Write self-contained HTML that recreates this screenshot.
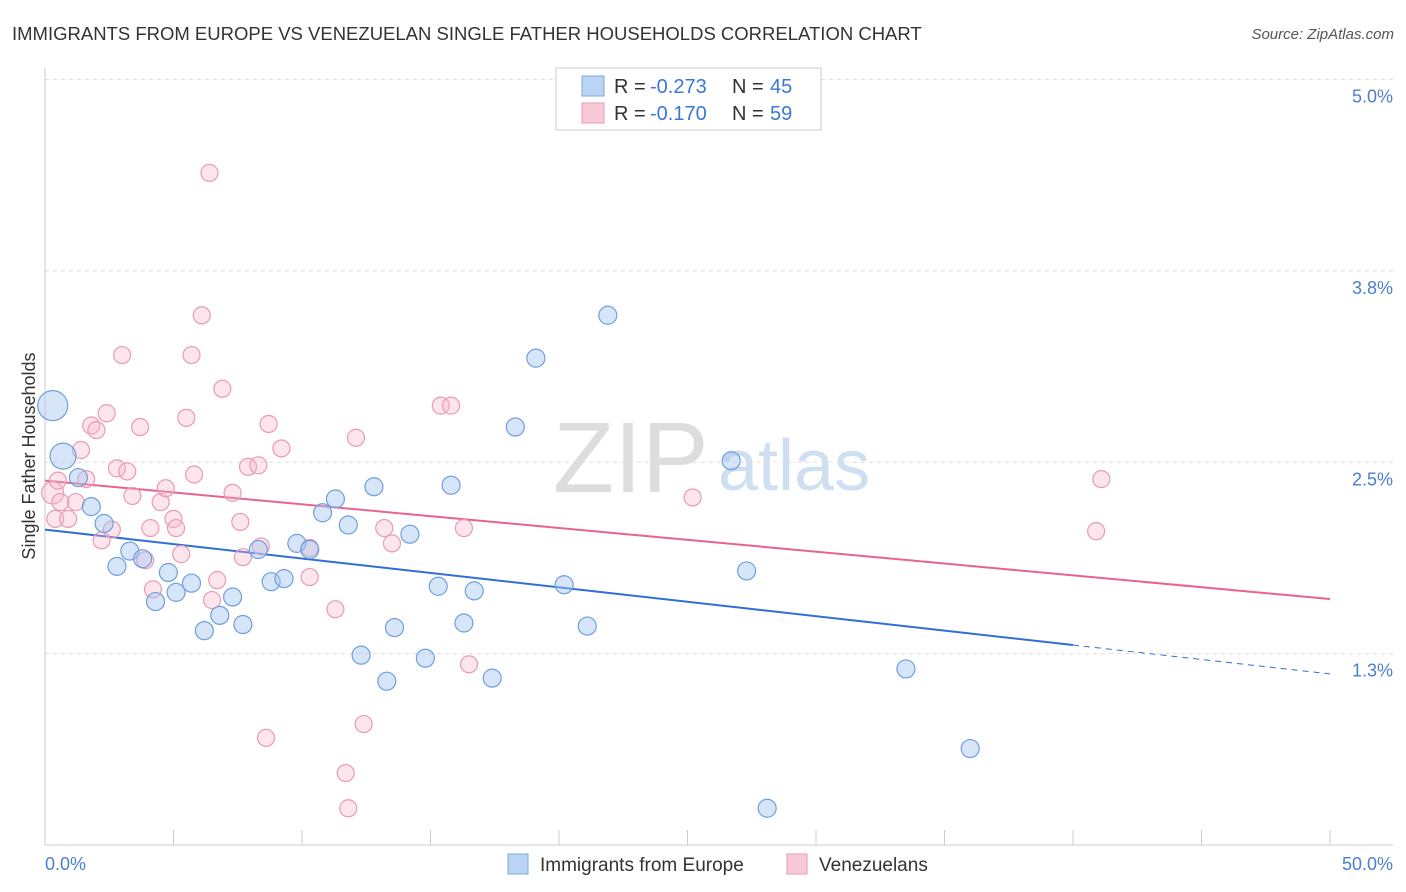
<!DOCTYPE html>
<html><head><meta charset="utf-8"><style>
body{margin:0;background:#fff;font-family:"Liberation Sans",sans-serif;overflow:hidden}
svg{display:block;overflow:hidden}
svg text{font-family:"Liberation Sans",sans-serif}
</style></head><body>
<svg width="1406" height="892">
<text x="12" y="40" font-size="18.5" fill="#333">IMMIGRANTS FROM EUROPE VS VENEZUELAN SINGLE FATHER HOUSEHOLDS CORRELATION CHART</text>
<text x="1394" y="39" font-size="15" fill="#555" font-style="italic" text-anchor="end">Source: ZipAtlas.com</text>
<text x="553" y="492" font-size="100" fill="#ddd" font-family="Liberation Serif">ZIP</text>
<text x="718" y="490" font-size="72" fill="#cfdff2">atlas</text>
<g id="grid"></g><g id="axes"></g><g id="lines"></g><g id="pts"></g>
<text x="35" y="456" font-size="18" fill="#333" transform="rotate(-90 35 456)" text-anchor="middle">Single Father Households</text>
<text x="45" y="870" font-size="18" fill="#4a7fd0">0.0%</text>
<text x="1393" y="870" font-size="18" fill="#4a7fd0" text-anchor="end">50.0%</text>
<g>
<rect x="556" y="68" width="265" height="62" fill="#fff" stroke="#ccc"/>
<rect x="582" y="76" width="22" height="20" fill="#bcd4f4" stroke="#7aa9e0"/>
<rect x="582" y="103" width="22" height="20" fill="#f9c9d8" stroke="#e89ab4"/>
<text x="614" y="93" font-size="20" fill="#333">R =</text>
<text x="650" y="93" font-size="20" fill="#3a78d8">-0.273</text>
<text x="732" y="93" font-size="20" fill="#333">N =</text>
<text x="770" y="93" font-size="20" fill="#3a78d8">45</text>
<text x="614" y="120" font-size="20" fill="#333">R =</text>
<text x="650" y="120" font-size="20" fill="#3a78d8">-0.170</text>
<text x="732" y="120" font-size="20" fill="#333">N =</text>
<text x="770" y="120" font-size="20" fill="#3a78d8">59</text>
</g>
<g>
<rect x="508" y="854" width="20" height="20" fill="#bcd4f4" stroke="#7aa9e0"/>
<text x="540" y="871" font-size="19" fill="#333">Immigrants from Europe</text>
<rect x="787" y="854" width="20" height="20" fill="#f9c9d8" stroke="#e89ab4"/>
<text x="819" y="871" font-size="19" fill="#333">Venezuelans</text>
</g>
</svg>
<script>
const yTicks=[5.0,3.75,2.5,1.25];
const yTickLabels=["5.0%","3.8%","2.5%","1.3%"];
const xTicks=[0,5,10,15,20,25,30,35,40,45,50];
const blueX=[0.3,0.7,1.3,1.8,2.3,2.8,3.3,3.8,4.3,4.8,5.1,5.7,6.2,6.8,7.3,7.7,8.3,8.8,9.3,9.8,10.3,10.8,11.3,11.8,12.3,12.8,13.3,13.6,14.2,14.8,15.3,15.8,16.3,16.7,17.4,18.3,19.1,20.2,21.1,21.9,26.7,27.3,28.1,33.5,36.0];
const blueY=[2.87,2.54,2.40,2.21,2.10,1.82,1.92,1.87,1.59,1.78,1.65,1.71,1.40,1.50,1.62,1.44,1.93,1.72,1.74,1.97,1.93,2.17,2.26,2.09,1.24,2.34,1.07,1.42,2.03,1.22,1.69,2.35,1.45,1.66,1.09,2.73,3.18,1.70,1.43,3.46,2.51,1.79,0.24,1.15,0.63];
const pinkX=[0.3,0.4,0.6,0.9,1.2,1.4,1.6,1.8,2.0,2.2,2.4,2.6,2.8,3.0,3.2,3.4,3.7,3.9,4.1,4.2,4.5,4.7,5.0,5.1,5.3,5.5,5.7,5.8,6.1,6.4,6.5,6.7,6.9,7.3,7.6,7.7,7.9,8.3,8.4,8.6,8.7,9.2,10.3,10.3,11.3,11.7,11.8,12.1,12.4,13.2,13.5,15.4,15.8,16.3,16.5,25.2,40.9,41.1,0.5];
const pinkY=[2.30,2.13,2.24,2.13,2.24,2.58,2.39,2.74,2.71,1.99,2.82,2.06,2.46,3.20,2.44,2.28,2.73,1.86,2.07,1.67,2.24,2.33,2.13,2.07,1.90,2.79,3.20,2.42,3.46,4.39,1.60,1.73,2.98,2.30,2.11,1.88,2.47,2.48,1.95,0.70,2.75,2.59,1.94,1.75,1.54,0.47,0.24,2.66,0.79,2.07,1.97,2.87,2.87,2.07,1.18,2.27,2.05,2.39,2.38];
const blueR=[15,13];
const blueFit=[2.06,-0.01885];const pinkFit=[2.38,-0.01547];
const X=v=>45+v*25.7, Y=v=>845-v*153.1;
const NS="http://www.w3.org/2000/svg";
function mk(t,a,p){const e=document.createElementNS(NS,t);for(const k in a)e.setAttribute(k,a[k]);document.getElementById(p).appendChild(e);return e;}
yTicks.forEach((t,i)=>{
 const l=mk('line',{x1:45,x2:1393,y1:Y(t),y2:Y(t),stroke:'#ddd','stroke-dasharray':'4,4'},'grid');
 
 
 const tx=mk('text',{x:1393,y:Y(t)+23,'font-size':18,fill:'#4a7fd0','text-anchor':'end'},'grid');
 tx.textContent=yTickLabels[i];
 
 
});
const ax=mk('line',{x1:45,x2:45,y1:68,y2:845,stroke:'#ccc'},'axes');


const bx=mk('line',{x1:45,x2:1393,y1:845,y2:845,stroke:'#ccc'},'axes');


xTicks.forEach(t=>{const l=mk('line',{x1:X(t),x2:X(t),y1:830,y2:845,stroke:'#ccc'},'axes');
 
 });
function fit(f,x0,x1,st,dash,name){const l=mk('line',{x1:X(x0),y1:Y(f[0]+f[1]*x0),x2:X(x1),y2:Y(f[0]+f[1]*x1),stroke:st,'stroke-width':2},'lines');if(dash){l.setAttribute('stroke-dasharray','6,5');l.setAttribute('stroke-width',1);}
 
 }
fit(blueFit,0,40,'#2f6fd6',false,'trend-europe');
fit(blueFit,40,50,'#2f6fd6',true,'trend-europe-extrapolated');
fit(pinkFit,0,50,'#e8638e',false,'trend-venezuelans');
pinkX.forEach((x,i)=>{const c=mk('circle',{cx:X(x),cy:Y(pinkY[i]),r:i==0?11:8.5,fill:'rgba(246,180,202,0.35)',stroke:'#e99ab5','stroke-width':1.2},'pts');
 
 });
blueX.forEach((x,i)=>{const c=mk('circle',{cx:X(x),cy:Y(blueY[i]),r:blueR[i]||9,fill:'rgba(165,198,240,0.45)',stroke:'#6f9fdc','stroke-width':1.2},'pts');
 
 });
</script>
</body></html>
